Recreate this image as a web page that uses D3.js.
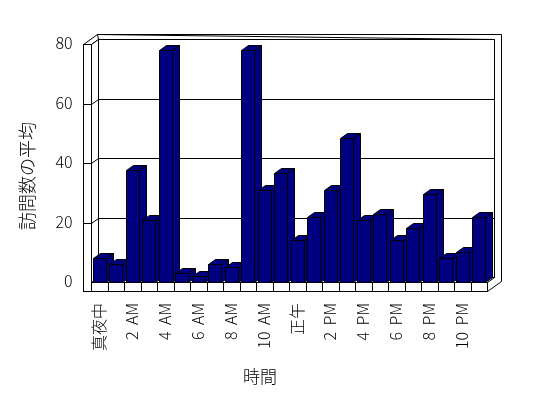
<!DOCTYPE html>
<html>
<head>
<meta charset="utf-8">
<script src="https://cdn.jsdelivr.net/npm/d3@7"></script>
<style>
  body { margin: 0; background: #fff; }
  svg { will-change: transform; }
  text { font-family: "Noto Sans CJK JP", "Noto Sans", sans-serif; fill: #000; font-weight: 300; }
</style>
</head>
<body>
<div id="chart"></div>
<script>
/* global d3 */

// Hours of the day (category axis)
var hours = [ "真夜中", "1 AM", "2 AM", "3 AM", "4 AM", "5 AM", "6 AM", "7 AM",
  "8 AM", "9 AM", "10 AM", "11 AM", "正午", "1 PM", "2 PM", "3 PM",
  "4 PM", "5 PM", "6 PM", "7 PM", "8 PM", "9 PM", "10 PM", "11 PM" ];

// Average visits per hour
var visits = [ 8, 6, 37.5, 21, 78, 3, 2, 6, 5, 78, 31, 36.5,
  14, 22, 31, 48.5, 21, 23, 14, 18, 29.5, 8, 10, 22 ];

var yTicks = [ 0, 20, 40, 60, 80 ];
var xTickLabels = [ "真夜中", "2 AM", "4 AM", "6 AM", "8 AM", "10 AM",
  "正午", "2 PM", "4 PM", "6 PM", "8 PM", "10 PM" ];

var yTitle = "訪問数の平均",
  xTitle = "時間";

var width = 548,
  height = 398,
  wallLeft = 83.5,       // outer edge of the left wall
  plotLeft = 91.5,
  plotRight = 487.5,
  floorTop = 282.5,
  floorBottom = 291.5,
  dx = 7, dy = -5;       // depth offset

var svg = d3.select( "#chart" ).append( "svg" )
  .attr( "width", width )
  .attr( "height", height );

var xScale = d3.scaleBand()
  .domain( hours )
  .range( [ plotLeft, plotRight ] )
  .paddingInner( 0.19 )
  .paddingOuter( 0.095 );

var xCat = d3.scaleBand()
  .domain( hours )
  .range( [ plotLeft, plotRight ] );

var yScale = d3.scaleLinear()
  .domain( [ 0, 80 ] )
  .range( [ floorTop, 44.5 ] );

var yTop = yScale( 80 );

function snap( v ) { return Math.round( v - 0.5 ) + 0.5; }

function pts( a ) {
  return a.map( function( p ) { return snap( p[ 0 ] ) + "," + snap( p[ 1 ] ); } ).join( " " );
}

var frame = svg.append( "g" )
  .attr( "fill", "#fff" )
  .attr( "stroke", "#000" )
  .attr( "stroke-width", 1 );

// back wall (slab) outer outline
frame.append( "polygon" )
  .attr( "points", pts( [
    [ wallLeft + 2 * dx, yTop + 2 * dy ],
    [ plotRight + 2 * dx, yTop + 2 * dy ],
    [ plotRight + 2 * dx, floorBottom + 2 * dy ],
    [ plotRight, floorBottom ],
    [ plotRight, floorTop ],
    [ plotRight + dx, floorTop + dy ],
    [ plotRight + dx, yTop + dy ]
  ] ) );

// back wall inner face
frame.append( "rect" )
  .attr( "x", plotLeft + dx )
  .attr( "y", yTop + dy )
  .attr( "width", plotRight - plotLeft )
  .attr( "height", floorTop - yTop );

// left wall top face
frame.append( "polygon" )
  .attr( "points", pts( [
    [ wallLeft, yTop ],
    [ wallLeft + 2 * dx, yTop + 2 * dy ],
    [ plotLeft + dx, yTop + dy ],
    [ plotLeft, yTop ]
  ] ) );

// left wall inner face
frame.append( "polygon" )
  .attr( "points", pts( [
    [ plotLeft, yTop ],
    [ plotLeft + dx, yTop + dy ],
    [ plotLeft + dx, floorTop + dy ],
    [ plotLeft, floorTop ]
  ] ) );

// left wall front face
frame.append( "rect" )
  .attr( "x", wallLeft )
  .attr( "y", yTop )
  .attr( "width", plotLeft - wallLeft )
  .attr( "height", floorBottom - yTop );

// floor front face
frame.append( "rect" )
  .attr( "x", plotLeft )
  .attr( "y", floorTop )
  .attr( "width", plotRight - plotLeft )
  .attr( "height", floorBottom - floorTop );

// floor dividers
frame.selectAll( ".divider" )
  .data( hours.slice( 1 ) )
  .enter()
  .append( "line" )
    .attr( "class", "divider" )
    .attr( "x1", function( d ) { return snap( xCat( d ) ); } )
    .attr( "x2", function( d ) { return snap( xCat( d ) ); } )
    .attr( "y1", floorTop )
    .attr( "y2", floorBottom );

// gridlines: front tick, wall diagonal, back wall line
var grid = frame.selectAll( ".grid" )
  .data( yTicks.slice( 1, 4 ) )
  .enter()
  .append( "g" )
    .attr( "class", "grid" );

function yS( d ) { return snap( yScale( d ) ); }
function yB( d ) { return snap( yScale( d ) + dy ); }

grid.append( "line" )
  .attr( "x1", wallLeft ).attr( "x2", plotLeft )
  .attr( "y1", yS ).attr( "y2", yS );

grid.append( "line" )
  .attr( "x1", plotLeft ).attr( "x2", plotLeft + dx )
  .attr( "y1", yS ).attr( "y2", yB );

grid.append( "line" )
  .attr( "x1", plotLeft + dx ).attr( "x2", plotRight + dx )
  .attr( "y1", yB ).attr( "y2", yB );

// Bars, left to right so each covers the side of the one before
var bars = svg.append( "g" )
  .attr( "fill", "#000080" )
  .attr( "stroke", "#000" )
  .attr( "stroke-width", 1 )
  .selectAll( ".bar" )
  .data( visits )
  .enter()
  .append( "g" )
    .attr( "class", "bar" );

function barX( d, i ) { return xScale( hours[ i ] ); }

bars.append( "polygon" )
  .attr( "points", function( d, i ) {
    var x0 = barX( d, i ), x1 = x0 + xScale.bandwidth(), yt = yScale( d );
    return pts( [ [ x1, yt ], [ x1 + dx, yt + dy ], [ x1 + dx, floorTop + dy ], [ x1, floorTop ] ] );
  } );

bars.append( "polygon" )
  .attr( "points", function( d, i ) {
    var x0 = barX( d, i ), x1 = x0 + xScale.bandwidth(), yt = yScale( d );
    return pts( [ [ x0, yt ], [ x0 + dx, yt + dy ], [ x1 + dx, yt + dy ], [ x1, yt ] ] );
  } );

bars.append( "polygon" )
  .attr( "points", function( d, i ) {
    var x0 = barX( d, i ), x1 = x0 + xScale.bandwidth(), yt = yScale( d );
    return pts( [ [ x0, yt ], [ x1, yt ], [ x1, floorTop ], [ x0, floorTop ] ] );
  } );

// Y axis labels
var yAxis = svg.append( "g" )
  .attr( "transform", "translate(" + ( wallLeft - 11 ) + ",-1)" )
  .call( d3.axisLeft( yScale ).tickValues( yTicks ).tickSize( 0 ).tickPadding( 0 ) );
yAxis.select( ".domain" ).remove();
yAxis.selectAll( "text" )
  .attr( "fill", "#000" )
  .style( "font-size", "16px" )
  .style( "font-family", "\"Noto Sans CJK JP\", sans-serif" );

// X axis labels, rotated
var xAxis = svg.append( "g" )
  .attr( "transform", "translate(0," + 303 + ")" )
  .call( d3.axisBottom( xCat ).tickValues( xTickLabels ).tickSize( 0 ).tickPadding( 0 ) );
xAxis.select( ".domain" ).remove();
xAxis.selectAll( "text" )
  .attr( "fill", "#000" )
  .attr( "transform", "rotate(-90)" )
  .attr( "x", 0 )
  .attr( "y", 0 )
  .attr( "dy", "0.35em" )
  .style( "text-anchor", "end" )
  .style( "word-spacing", "3px" )
  .style( "font-size", "16px" )
  .style( "font-family", "\"Noto Sans CJK JP\", sans-serif" );

// Axis titles
svg.append( "text" )
  .attr( "transform", "translate(28,176) rotate(-90)" )
  .attr( "text-anchor", "middle" )
  .attr( "dy", "0.35em" )
  .style( "font-size", "18px" )
  .text( yTitle );

svg.append( "text" )
  .attr( "x", 260 )
  .attr( "y", 377 )
  .attr( "text-anchor", "middle" )
  .attr( "dy", "0.35em" )
  .style( "font-size", "17px" )
  .text( xTitle );
</script>
</body>
</html>
